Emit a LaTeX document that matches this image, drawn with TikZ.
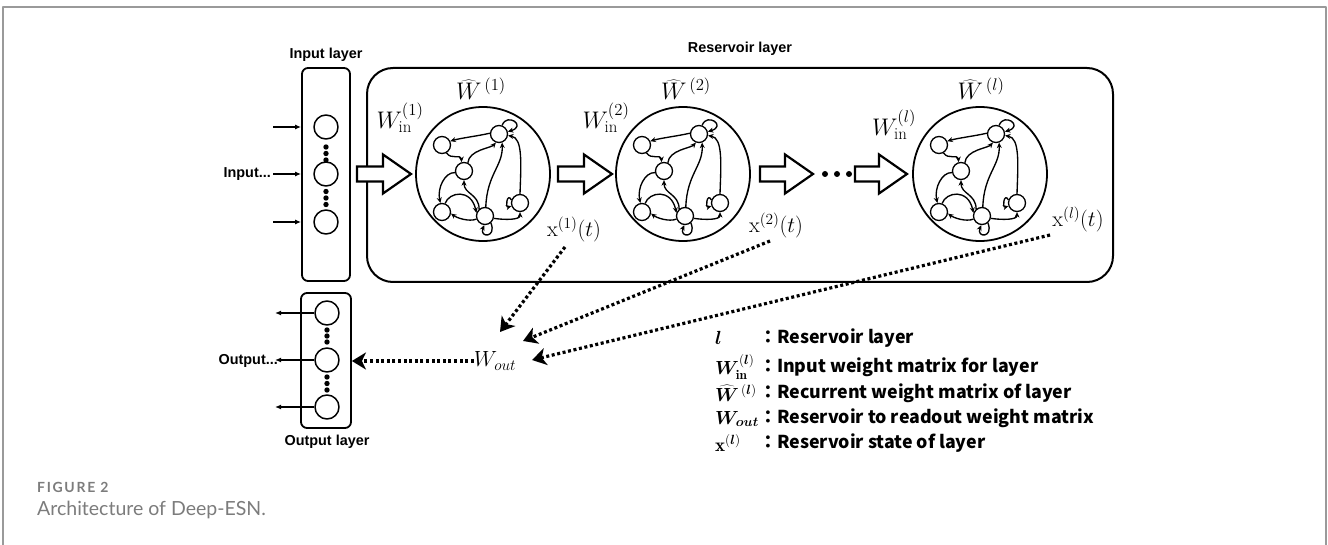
\RequirePackage{fix-cm}
\documentclass[tikz,border=0pt]{standalone}
\usepackage{bm}
\usepackage{fontspec}
\newfontfamily\arialfont{Liberation Sans}
\newfontfamily\jpfont{Noto Sans CJK JP}
\newfontfamily\capfont{Lato}
\newfontfamily\figfont{Lato}[LetterSpace=12]
\usetikzlibrary{arrows.meta}
\definecolor{capgray}{HTML}{7C7C7C}
\definecolor{framegray}{HTML}{9A9A9A}
\newcommand\resnet[1]{%
 \node[rnode] (#1a) at (-41,-29) {};
 \node[rnode] (#1b) at (16,-40) {};
 \node[rnode] (#1c) at (-19,-3) {};
 \node[rnode] (#1d) at (-41,38) {};
 \node[rnode] (#1e) at (2,42) {};
 \node[rnode] (#1f) at (37,29) {};
 \draw[redge] (#1b.175) .. controls (-5,-38) and (-22,-36) .. (#1a.25);
 \draw[redge] (#1a.-60) .. controls (-32,-14) and (-22,-20) .. (#1c.105);
 \draw[redge] (#1c.65) .. controls (-14,-24) and (8,-26) .. (#1b.-110);
 \draw[redge] (#1b.70) .. controls (24,-62) and (44,-48) .. (#1b.15);
 \draw[redge] (#1f.90) .. controls (38,-10) and (40,-36) .. (#1b.-10);
 \draw[redge] (#1e.85) .. controls (4,0) and (20,-8) .. (#1b.-70);
 \draw[redge] (#1c.190) .. controls (-38,-2) and (-46,14) .. (#1d.100);
 \draw[redge] (#1e.130) .. controls (-4,20) and (-19,20) .. (#1c.-90);
 \draw[redge] (#1d.70) .. controls (-34,18) and (-12,14) .. (#1e.160);
 \draw[redge] (#1e.200) .. controls (-14,48) and (-26,44) .. (#1d.-10);
 \draw[redge] (#1e.-15) .. controls (22,46) and (37,46) .. (#1f.-90);
 \draw[redge] (#1f.160) .. controls (24,18) and (22,34) .. (#1f.200);
 \draw[redge] (#1e.-50) .. controls (14,64) and (-4,64) .. (#1e.-95);
}
\newcommand\blockarr[3]{%
 \draw[blockarrow] (#1,{#3-7.5}) -- ({#2-28},{#3-7.5}) -- ({#2-28},{#3-19.5}) -- (#2,#3)
   -- ({#2-28},{#3+19.5}) -- ({#2-28},{#3+7.5}) -- (#1,{#3+7.5}) -- cycle;
}
\begin{document}
\begin{tikzpicture}[x=1pt,y=-1pt,line join=round,
  neuron/.style={circle,draw,line width=1.5pt,minimum size=24pt,inner sep=0pt},
  rnode/.style={circle,draw,line width=1.3pt,minimum size=17pt,inner sep=0pt,fill=white},
  layerbox/.style={draw,line width=1.8pt,rounded corners=6pt,inner sep=0pt},
  resbox/.style={draw,line width=2pt,rounded corners=26pt,inner sep=0pt},
  rescircle/.style={circle,draw,line width=1.8pt,minimum size=134pt,inner sep=0pt},
  redge/.style={line width=1.35pt,-{Stealth[length=5.5pt,width=5pt]}},
  blockarrow/.style={draw,line width=2.2pt,fill=white,line join=miter},
  dotarrow/.style={line width=3.2pt,dash pattern=on 3pt off 2.6pt,-{Stealth[length=14pt,width=17pt,inset=4pt]}},
  thinarrow/.style={line width=1.3pt,-{Latex[length=6pt,width=5pt]}},
  lbl/.style={font={\arialfont\bfseries\fontsize{14.4}{16}\selectfont},inner sep=0pt},
  mbig/.style={font={\fontsize{24}{28}\selectfont},inner sep=0pt},
  mhat/.style={font={\fontsize{24}{28}\selectfont},inner sep=0pt},
  mmid/.style={font={\fontsize{22}{26}\selectfont},inner sep=0pt},
  legsym/.style={font={\fontsize{19}{22}\selectfont},inner sep=0pt,anchor=west},
  legtxt/.style={font={\jpfont\bfseries\fontsize{17.8}{20}\selectfont},inner sep=0pt,anchor=west},
]
\useasboundingbox (0,0) rectangle (1328,545);
% frame
\draw[framegray,line width=1.6pt] (3,545) -- (3,7) -- (1326,7) -- (1326,545);

% input layer
\node[layerbox,minimum width=48pt,minimum height=213pt] (inbox) at (326,174.5) {};
\node[lbl] (inlbl) at (326,55) {Input layer};
\node[neuron] (in1) at (326,127) {};
\node[neuron] (in2) at (326,174) {};
\node[neuron] (in3) at (326,222) {};
\foreach \y in {147,153.5,160,191.5,198,204.5} \fill (326,\y) circle (2.7);
\coordinate (ia1) at (273,127);
\coordinate (ia2) at (273,174);
\coordinate (ia3) at (273,222);
\draw[thinarrow] (ia1) -- (ia1 -| inbox.west);
\draw[thinarrow] (ia2) -- (ia2 -| inbox.west);
\draw[thinarrow] (ia3) -- (ia3 -| inbox.west);
\node[lbl,anchor=east] (inputs) at (271,174) {Input...};

% output layer
\node[layerbox,minimum width=50pt,minimum height=135pt] (outbox) at (326,360.5) {};
\node[lbl] (outlbl) at (327,442) {Output layer};
\node[neuron] (out1) at (327,313) {};
\node[neuron] (out2) at (327,360) {};
\node[neuron] (out3) at (327,407) {};
\foreach \y in {330,336,342,377,383.5,390} \fill (327,\y) circle (2.7);
\coordinate (oa1) at (275,313);
\coordinate (oa2) at (275,360);
\coordinate (oa3) at (275,407);
\draw[thinarrow] (out1.west) -- (oa1);
\draw[thinarrow] (out2.west) -- (oa2);
\draw[thinarrow] (out3.west) -- (oa3);
\node[lbl,anchor=east] (outputs) at (278,361) {Output...};

% reservoir
\node[resbox,minimum width=746pt,minimum height=214pt] (res) at (740,175) {};
\node[lbl] (reslbl) at (740,49) {Reservoir layer};

\node[rescircle] (L1) at (483,174) {};
\node[rescircle] (L2) at (683,174) {};
\node[rescircle] (L3) at (980,174) {};
\begin{scope}[shift={(483,174)}]\resnet{a}\end{scope}
\begin{scope}[shift={(683,174)}]\resnet{b}\end{scope}
\begin{scope}[shift={(980,174)}]\resnet{c}\end{scope}

\blockarr{357}{411}{174}
\blockarr{558}{612}{174}
\blockarr{760}{813}{174}
\blockarr{855}{907}{174}
\foreach \x in {825,837,849} \fill (\x,174) circle (3);

\node[mbig] (win1) at (400,118) {$W^{(1)}_{\mathrm{in}}$};
\node[mbig] (win2) at (606,118) {$W^{(2)}_{\mathrm{in}}$};
\node[mbig] (winl) at (894,125) {$W^{(l)}_{\mathrm{in}}$};
\node[mhat] (wh1) at (481,89) {$\widehat{W}^{\,(1)}$};
\node[mhat] (wh2) at (686,89) {$\widehat{W}^{\,(2)}$};
\node[mhat] (whl) at (981,89) {$\widehat{W}^{\,(l)}$};
\node[mmid] (x1) at (574,229) {$\mathrm{x}^{(1)}(t)$};
\node[mmid] (x2) at (776,225) {$\mathrm{x}^{(2)}(t)$};
\node[mmid] (xl) at (1078,219) {$\mathrm{x}^{(l)}(t)$};
\node[font={\fontsize{22}{26}\selectfont},inner sep=0pt] (wout) at (495,361) {$W_{out}$};

% dotted connections
\coordinate (d1s) at (565,247);
\coordinate (d1e) at (500,332);
\coordinate (d2s) at (770,241);
\coordinate (d2e) at (523,341);
\coordinate (d3s) at (1050,235);
\coordinate (d3e) at (532,360);
\draw[dotarrow] (d1s) -- (d1e);
\draw[dotarrow] (d2s) -- (d2e);
\draw[dotarrow] (d3s) -- (d3e);
\draw[dotarrow] (wout.west) -- (outbox.east |- wout.west);

% legend
\node[legsym] (s1) at (715,338) {$\bm{l}$};
\node[legsym] (s2) at (715,367) {$\bm{W}^{(\bm{l})}_{\mathbf{in}}$};
\node[legsym] (s3) at (715,393) {$\bm{\widehat{W}}^{\,(\bm{l})}$};
\node[legsym] (s4) at (715,419) {$\bm{W}_{\bm{out}}$};
\node[legsym] (s5) at (715,443) {$\mathbf{x}^{(\bm{l})}$};
\node[legtxt] (t1) at (759,338) {：Reservoir layer};
\node[legtxt] (t2) at (759,367) {：Input weight matrix for layer};
\node[legtxt] (t3) at (759,393) {：Recurrent weight matrix of layer};
\node[legtxt] (t4) at (759,418) {：Reservoir to readout weight matrix};
\node[legtxt] (t5) at (759,443) {：Reservoir state of layer};

% caption
\node[anchor=west,inner sep=0pt,text=capgray,font={\figfont\bfseries\fontsize{14}{16}\selectfont}] (fig) at (37,487) {FIGURE 2};
\node[anchor=west,inner sep=0pt,text=capgray,font={\capfont\fontsize{19.5}{22}\selectfont}] (cap) at (37,510) {Architecture of Deep-ESN.};
\end{tikzpicture}
\end{document}
